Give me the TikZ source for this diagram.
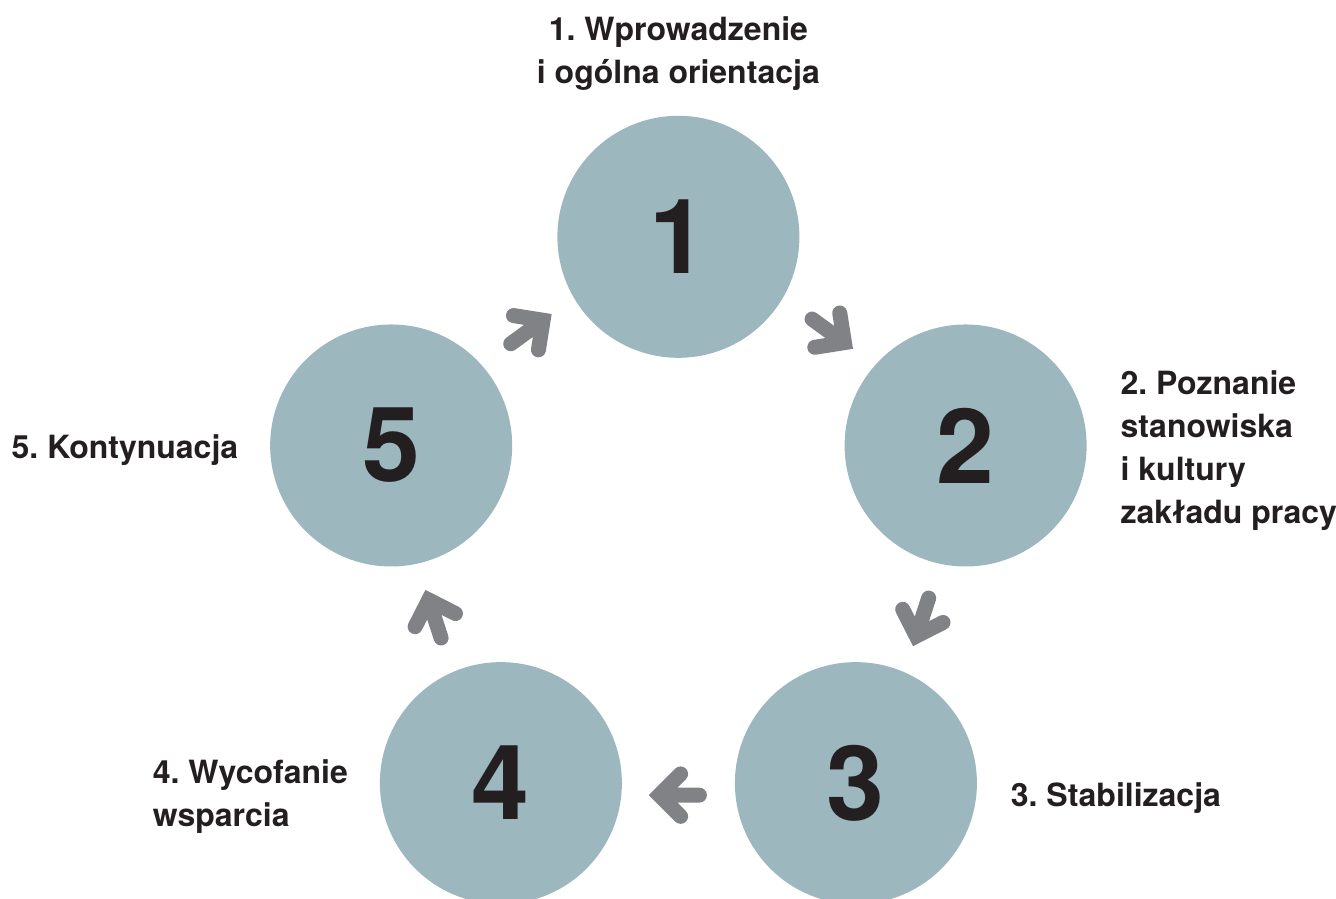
\documentclass[tikz,border=0pt]{standalone}
\usepackage{fontspec}
\setmainfont{TeX Gyre Heros}
\usetikzlibrary{positioning,calc}
\definecolor{stagefill}{HTML}{9CB7BD}
\definecolor{arrowgray}{HTML}{808285}
\definecolor{inkdark}{HTML}{231F20}
\frenchspacing
\tikzset{
  stage/.style={circle,fill=stagefill,minimum size=242pt,inner sep=0pt,outer sep=0pt,
    text=inkdark,font=\fontsize{104}{104}\selectfont\bfseries},
  caption/.style={inner sep=0pt,outer sep=0pt,text=inkdark,
    font=\fontsize{32}{43}\selectfont\bfseries},
  stepflow/.style={draw=arrowgray,line width=15pt,line cap=round,line join=miter,
    to path={($(\tikztostart)!0.5!(\tikztotarget)!-21pt!(\tikztotarget)!12pt!90:(\tikztotarget)$) coordinate (tail)
      -- ($(\tikztostart)!0.5!(\tikztotarget)!19pt!(\tikztotarget)!12pt!90:(\tikztotarget)$) coordinate (head)
      ($(head)!30pt!45:(tail)$) -- (head) -- ($(head)!30pt!-45:(tail)$)}},
}
\begin{document}
\begin{tikzpicture}[x=1pt,y=1pt]
  \useasboundingbox (-678.4,-359.2) rectangle (657.6,538.8);
  % the five stages on a ring
  \node[stage] (c1) at (90:302) {1};
  \node[stage] (c2) at (18:302) {2};
  \node[stage] (c3) at (-54:302) {3};
  \node[stage] (c4) at (-126:302) {4};
  \node[stage] (c5) at (162:302) {5};
  % captions
  \node[caption,align=center,above=25pt of c1] (l1) {1. Wprowadzenie\\i ogólna orientacja};
  \node[caption,align=left,right=34pt of c2,yshift=-5pt] (l2) {2. Poznanie\\stanowiska\\i kultury\\zakładu pracy};
  \node[caption,right=34pt of c3,yshift=-15pt] (l3) {3. Stabilizacja};
  \node[caption,align=left,left=32pt of c4,yshift=-13pt] (l4) {4. Wycofanie\\wsparcia};
  \node[caption,left=32pt of c5,yshift=-5pt] (l5) {5. Kontynuacja};
  % arrows between stages
  \draw[stepflow] (c1) to (c2);
  \draw[stepflow] (c2) to (c3);
  \draw[stepflow] (c3) to (c4);
  \draw[stepflow] (c4) to (c5);
  \draw[stepflow] (c5) to (c1);
\end{tikzpicture}
\end{document}
